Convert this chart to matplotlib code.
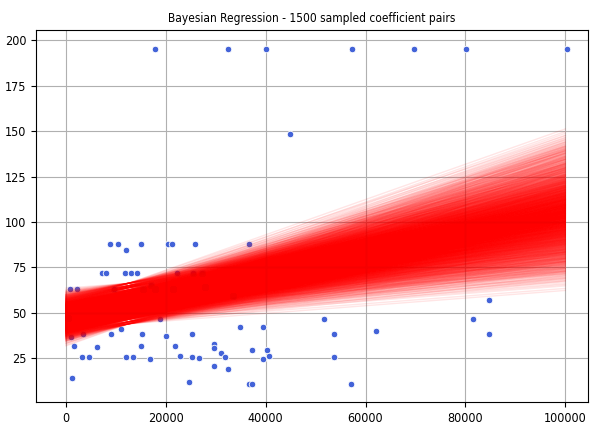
import numpy as np
import matplotlib
matplotlib.use("Agg")
import matplotlib.pyplot as plt

# observed points (x, y)
x_pts = [17900, 32400, 40000, 57200, 69800, 80200, 100400, 44900,
         8800, 10500, 12100, 15000, 20500, 21300, 25800, 36600,
         7300, 8100, 11800, 13100, 14300, 22300, 25500, 27300,
         800, 2300, 9600, 17000, 15500, 17800, 21500, 27800, 33500,
         34800, 39500, 18800, 500, 1100, 1700, 3500, 9000, 11000, 6300,
         3200, 4700, 12000, 13500, 15300, 15000, 16900, 20000, 21900,
         22800, 25200, 25200, 26700, 29600, 29600, 31100, 31800, 29600,
         32500, 1200, 24700, 51700, 53700, 62100, 37200, 40300, 40700,
         39500, 36700, 37200, 53700, 57100, 84700, 81500, 84800]
y_pts = [195, 195, 195, 195, 195, 195, 195, 148.5,
         88, 88, 84.5, 88, 88, 88, 88, 88,
         72, 72, 72, 72, 72, 72, 72, 72,
         63, 63, 63, 65.5, 63, 63, 63, 64, 59.5,
         42, 42, 46.5, 47, 36.5, 32, 38.5, 38.5, 41, 31,
         26, 26, 26, 26, 38.5, 32, 24.5, 37.5, 32,
         26.5, 38.5, 26, 25, 33, 30.5, 28, 25.5, 21,
         19, 14, 12, 46.5, 38.5, 40, 29.5, 29.5, 26.5,
         24.5, 11, 11, 25.5, 11, 57, 46.5, 38.5]

# sampled coefficients: value at x=12500 and slope per 1000
pivot_vals = [55.2, 49.6, 60.8, 52.9, 57.5, 45.1, 58.9, 53.4, 63.9, 50.7,
              56.4, 47.8, 59.6, 54.2, 51.5, 66.3, 55.8, 48.6, 61.7, 53.8,
              57.0, 44.0, 62.6, 52.3, 56.8, 50.2, 58.3, 54.7, 46.5, 60.2,
              55.0, 51.0, 57.9, 53.1, 64.9, 49.2, 56.1, 47.2, 59.1, 54.5]
slopes = [0.61, 0.38, 0.72, 0.55, 0.49, 0.83, 0.57, 0.27, 0.66, 0.52,
          0.44, 0.78, 0.59, 0.35, 0.68, 0.53, 0.93, 0.47, 0.63, 0.21,
          0.58, 0.75, 0.41, 0.64, 0.54, 0.33, 0.70, 0.50, 0.86, 0.60,
          0.45, 0.56, 0.97, 0.39, 0.67, 0.51, 0.74, 0.29]

x_line = np.array([0, 100000])

fig = plt.figure(figsize=(5.9, 4.25), dpi=100)
ax = fig.add_axes([0.061, 0.054, 0.936, 0.875])

ax.scatter(x_pts, y_pts, s=22, color='#4363d8', edgecolor='white', linewidth=0.6, zorder=2)

for c in pivot_vals:
    for m in slopes:
        ax.plot(x_line, c + m * (x_line / 1000 - 12.5), color='red', alpha=0.1, lw=1, zorder=3)

ax.set_xlim(-6000, 104600)
ax.set_ylim(1, 205.5)
ax.set_xticks([0, 20000, 40000, 60000, 80000, 100000])
ax.set_yticks([25, 50, 75, 100, 125, 150, 175, 200])
ax.grid(True, color='#b0b0b0', lw=0.8)
ax.set_axisbelow(True)
ax.tick_params(labelsize=9)
for lbl in ax.get_xticklabels() + ax.get_yticklabels():
    lbl.set_fontstretch('condensed')
ax.set_title('Bayesian Regression - 1500 sampled coefficient pairs', fontsize=8.6, fontstretch='condensed')

plt.savefig('out.png', dpi=100)
